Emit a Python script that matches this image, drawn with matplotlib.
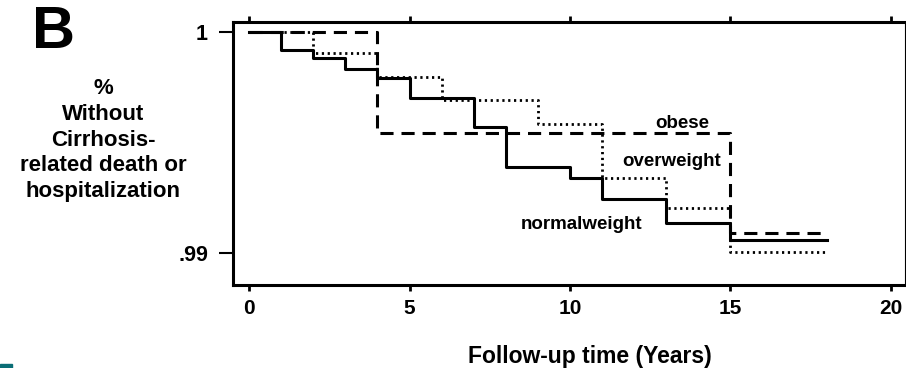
import matplotlib.pyplot as plt
from matplotlib.patches import Rectangle

plt.rcParams['font.family'] = ['Liberation Sans', 'DejaVu Sans']

# Kaplan-Meier style step curves (time in years, survival fraction)
normal_t = [0, 1, 2, 3, 4, 5, 7, 8, 10, 11, 13, 15, 18]
normal_s = [1.0, 0.99919, 0.99882, 0.99833, 0.99792, 0.99701, 0.99570,
            0.99389, 0.99339, 0.99244, 0.99136, 0.99059, 0.99059]

over_t = [0, 2, 4, 6, 9, 11, 13, 15, 18]
over_s = [1.0, 0.99905, 0.99796, 0.99692, 0.99584, 0.99339, 0.99204,
          0.99005, 0.99005]

obese_t = [0, 4, 15, 18]
obese_s = [1.0, 0.99543, 0.99090, 0.99090]

x_ticks = [0, 5, 10, 15, 20]
y_ticks = [0.99, 1.0]
y_tick_labels = [".99", "1"]

fig = plt.figure(figsize=(9.06, 3.68), dpi=100)
ax = fig.add_axes([233 / 906, 1 - 285 / 368, 672 / 906, 263 / 368])

ax.step(normal_t, normal_s, where="post", color="black", lw=2.2)
ax.step(over_t, over_s, where="post", color="black", lw=2.0,
        linestyle=(0, (0.8, 1.3)))
ax.step(obese_t, obese_s, where="post", color="black", lw=2.2,
        linestyle=(0, (4.3, 2.6)))

ax.text(13.5, 0.99588, "obese", ha="center", va="center", fontsize=13.5,
        fontweight="bold")
ax.text(13.18, 0.99412, "overweight", ha="center", va="center",
        fontsize=13.5, fontweight="bold")
ax.text(10.37, 0.99127, "normalweight", ha="center", va="center",
        fontsize=13.5, fontweight="bold")

ax.set_xlim(-0.5, 20.44)
ax.set_ylim(0.98855, 1.000452)

ax.set_xticks(x_ticks)
ax.set_xticklabels([str(t) for t in x_ticks], fontsize=15,
                   fontweight="bold")
ax.set_yticks(y_ticks)
ax.set_yticklabels(y_tick_labels, fontsize=15.5, fontweight="bold")

ax.tick_params(axis="x", which="both", direction="out", length=4, width=2,
               pad=6, top=True, labeltop=False)
ax.tick_params(axis="y", direction="out", length=10, width=1.5, pad=8)

for side in ["left", "bottom", "top"]:
    ax.spines[side].set_linewidth(2.2)
ax.spines["right"].set_linewidth(0.8)

ax.set_xlabel("Follow-up time (Years)", fontsize=16.5, fontweight="bold")
ax.xaxis.set_label_coords(0.531, -0.228)

fig.text(103 / 906, 1 - 140 / 368,
         "%\nWithout\nCirrhosis-\nrelated death or\nhospitalization",
         ha="center", va="center", fontsize=16, fontweight="bold",
         linespacing=1.3)

fig.text(53 / 906, 1 - 32 / 368, "B", ha="center", va="center",
         fontsize=43, fontweight="bold")

fig.patches.append(Rectangle((0, 0), 12 / 906, 4 / 368,
                             transform=fig.transFigure, color="#0b6e76"))

plt.savefig("out.png", dpi=100)
